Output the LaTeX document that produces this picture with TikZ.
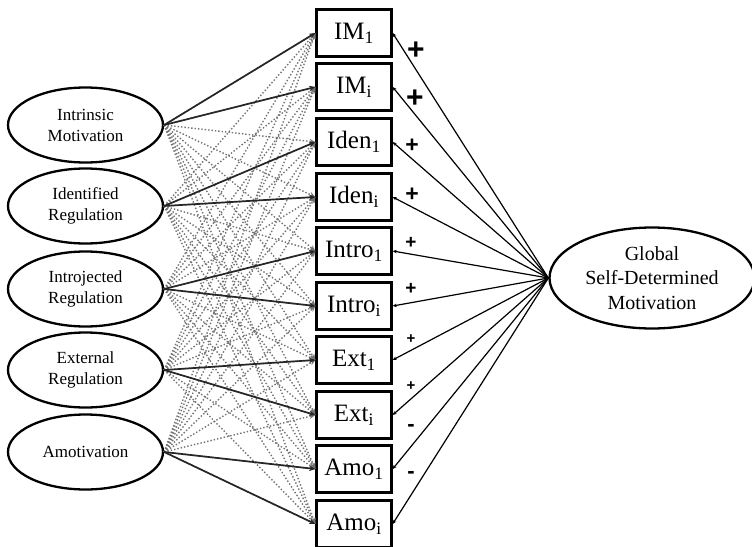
\documentclass[tikz,border=0pt]{standalone}
\usepackage{fontspec}
\setmainfont{Liberation Serif}
\newfontfamily\signfont{Liberation Sans}
\usetikzlibrary{shapes.geometric,arrows.meta}

\tikzset{
  factor/.style={ellipse,draw,line width=2.3pt,minimum width=155pt,minimum height=75pt,
    inner sep=0pt,align=center,font=\fontsize{17}{21}\selectfont},
  item/.style={rectangle,draw,line width=2.3pt,minimum width=75pt,minimum height=47pt,
    inner sep=0pt,font=\fontsize{25}{28}\selectfont},
  load/.style={draw=black!85,line width=1.7pt,-{Stealth[length=6pt,width=5pt,fill=black!55]}},
  cross/.style={draw=black!55,dotted,line width=1.4pt,-{Stealth[length=6pt,width=5pt]}},
  global/.style={draw=black,line width=1.2pt,-{Stealth[length=4pt,width=3.5pt]}},
  sign/.style={inner sep=0pt}
}

\begin{document}
\begin{tikzpicture}[x=1pt,y=-1pt]
\useasboundingbox (0,0) rectangle (752,546);

% observed items
\foreach \n/\t/\y in {1/IM\textsubscript{1}/33, 2/IM\textsubscript{i}/87,
    3/Iden\textsubscript{1}/142, 4/Iden\textsubscript{i}/197,
    5/Intro\textsubscript{1}/251, 6/Intro\textsubscript{i}/306,
    7/Ext\textsubscript{1}/360, 8/Ext\textsubscript{i}/415,
    9/Amo\textsubscript{1}/469, 10/Amo\textsubscript{i}/524}
  \node[item] (b\n) at (354,\y) {\t};

% first order factors
\foreach \n/\t/\y in {1/{Intrinsic\\Motivation}/125, 2/{Identified\\Regulation}/206,
    3/{Introjected\\Regulation}/289, 4/{External\\Regulation}/370, 5/{Amotivation}/452}
  \node[factor] (f\n) at (85.5,\y) {\t};

% global factor
\node[factor,minimum width=205pt,minimum height=101pt,font=\fontsize{20}{24.5}\selectfont]
  (g) at (652,278) {Global\\Self-Determined\\Motivation};

% cross loadings
\foreach \f in {1,...,5}
  \foreach \b in {1,...,10}
    \draw[cross] (f\f.east) -- (b\b.west);

% target loadings
\foreach \f/\a/\c in {1/1/2, 2/3/4, 3/5/6, 4/7/8, 5/9/10} {
  \draw[load] (f\f.east) -- (b\a.west);
  \draw[load] (f\f.east) -- (b\c.west);
}

\foreach \b in {1,...,10}
  \draw[global] (g.west) -- (b\b.east);

% signs
\node[sign,font=\signfont\bfseries\fontsize{30}{30}\selectfont] (s1) at (416,51) {+};
\node[sign,font=\signfont\bfseries\fontsize{30}{30}\selectfont] (s2) at (415,99) {+};
\node[sign,font=\signfont\bfseries\fontsize{23}{23}\selectfont] (s3) at (412,146) {+};
\node[sign,font=\signfont\bfseries\fontsize{23}{23}\selectfont] (s4) at (412,195) {+};
\node[sign,font=\signfont\bfseries\fontsize{19}{19}\selectfont] (s5) at (411,243) {+};
\node[sign,font=\signfont\bfseries\fontsize{19}{19}\selectfont] (s6) at (411,289) {+};
\node[sign,font=\signfont\bfseries\fontsize{15}{15}\selectfont] (s7) at (411,339) {+};
\node[sign,font=\signfont\bfseries\fontsize{15}{15}\selectfont] (s8) at (411,386) {+};
\node[sign,font=\signfont\bfseries\fontsize{22}{22}\selectfont] (s9) at (411,428) {-};
\node[sign,font=\signfont\bfseries\fontsize{22}{22}\selectfont] (s10) at (411,475) {-};
\end{tikzpicture}
\end{document}
